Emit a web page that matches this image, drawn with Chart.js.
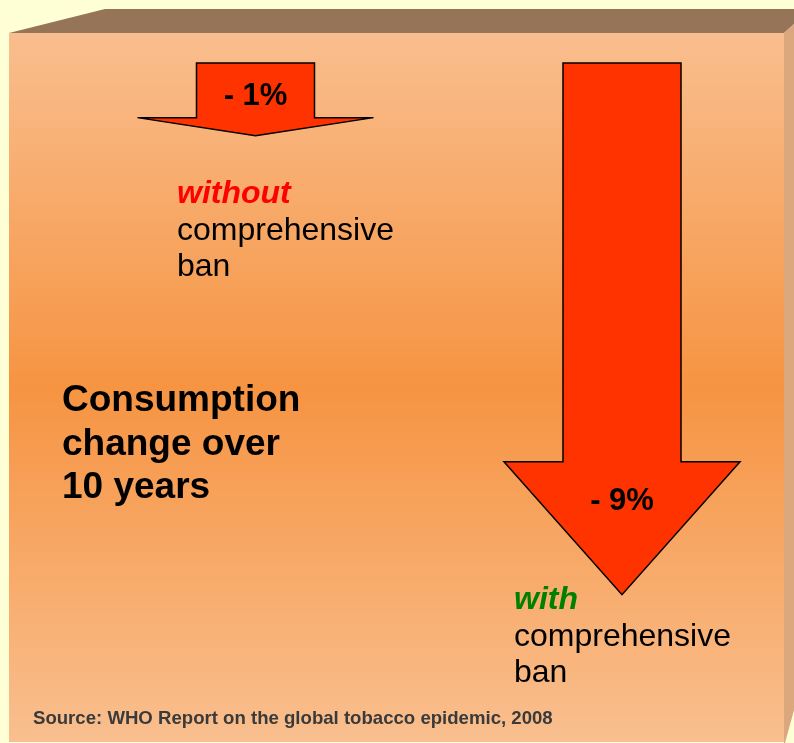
<!DOCTYPE html>
<html>
<head>
<meta charset="utf-8">
<script src="https://cdn.jsdelivr.net/npm/chart.js@4.4.1/dist/chart.umd.min.js"></script>
<style>
  html, body { margin: 0; padding: 0; background: #FFFFD5; }
</style>
</head>
<body>
<canvas id="banchart" width="794" height="743"></canvas>
<script>
const categories = ['without', 'with'];
const consumptionChange = [-1, -9];
const changeLabels = ['- 1%', '- 9%'];
const captionColors = ['#FF0000', '#008000'];

// 3D box behind the chart
const boxBackground = {
  id: 'boxBackground',
  beforeDraw(chart) {
    const ctx = chart.ctx;
    ctx.save();
    ctx.fillStyle = '#FFFFD5';
    ctx.fillRect(0, 0, chart.width, chart.height);

    ctx.fillStyle = '#957458';
    ctx.beginPath();
    ctx.moveTo(9, 33); ctx.lineTo(105, 9); ctx.lineTo(794, 9); ctx.lineTo(794, 24); ctx.lineTo(784, 33);
    ctx.closePath();
    ctx.fill();

    ctx.fillStyle = '#DBA77D';
    ctx.beginPath();
    ctx.moveTo(784, 33); ctx.lineTo(794, 24); ctx.lineTo(794, 710); ctx.lineTo(785, 743); ctx.lineTo(784, 743);
    ctx.closePath();
    ctx.fill();

    const g = ctx.createLinearGradient(0, 33, 0, 742);
    g.addColorStop(0, '#F9BE8E');
    g.addColorStop(0.5, '#F69442');
    g.addColorStop(1, '#F9BF8F');
    ctx.fillStyle = g;
    ctx.fillRect(9, 33, 775, 709);
    ctx.restore();
  }
};

// bars drawn as down arrows
const arrowBars = {
  id: 'arrowBars',
  afterDatasetsDraw(chart) {
    const ctx = chart.ctx;
    const top = chart.chartArea.top;
    const meta = chart.getDatasetMeta(0);
    ctx.save();
    meta.data.forEach((bar, i) => {
      const half = bar.width / 2;
      const tip = bar.y;
      const headH = (tip - top) * 0.25;
      const neck = tip - headH;
      ctx.beginPath();
      ctx.moveTo(bar.x - half, top);
      ctx.lineTo(bar.x + half, top);
      ctx.lineTo(bar.x + half, neck);
      ctx.lineTo(bar.x + bar.width, neck);
      ctx.lineTo(bar.x, tip);
      ctx.lineTo(bar.x - bar.width, neck);
      ctx.lineTo(bar.x - half, neck);
      ctx.closePath();
      ctx.fillStyle = '#FF3300';
      ctx.fill();
      ctx.lineWidth = 1.5;
      ctx.strokeStyle = '#000';
      ctx.lineJoin = 'miter';
      ctx.stroke();

      ctx.fillStyle = '#000';
      ctx.font = 'bold 31px "Liberation Sans", Arial, sans-serif';
      ctx.textAlign = 'center';
      ctx.textBaseline = 'alphabetic';
      const ly = i === 0 ? top + 42 : neck + 48;
      ctx.fillText(changeLabels[i], bar.x, ly);
    });
    ctx.restore();
  }
};

const captions = {
  id: 'captions',
  afterDraw(chart) {
    const ctx = chart.ctx;
    ctx.save();
    ctx.textAlign = 'left';
    ctx.textBaseline = 'alphabetic';
    const pos = [[177, 203], [514, 609]];
    categories.forEach((c, i) => {
      const [x, y] = pos[i];
      ctx.font = 'italic bold 32px "Liberation Sans", Arial, sans-serif';
      ctx.fillStyle = captionColors[i];
      ctx.fillText(c, x, y);
      ctx.font = '32px "Liberation Sans", Arial, sans-serif';
      ctx.fillStyle = '#000';
      ctx.fillText('comprehensive', x, y + 37);
      ctx.fillText('ban', x, y + 73);
    });

    ctx.font = 'bold 37px "Liberation Sans", Arial, sans-serif';
    ctx.fillStyle = '#000';
    ['Consumption', 'change over', '10 years'].forEach((t, i) => {
      ctx.fillText(t, 62, 411 + i * 43.5);
    });

    ctx.font = 'bold 18.6px "Liberation Sans", Arial, sans-serif';
    ctx.fillStyle = '#3A3A3A';
    ctx.fillText('Source: WHO Report on the global tobacco epidemic, 2008', 33, 724);
    ctx.restore();
  }
};

const ctx = document.getElementById('banchart').getContext('2d');
new Chart(ctx, {
  type: 'bar',
  data: {
    labels: categories,
    datasets: [{
      label: 'Consumption change over 10 years',
      data: consumptionChange,
      backgroundColor: 'rgba(0,0,0,0)',
      borderWidth: 0,
      categoryPercentage: 1,
      barPercentage: 0.322
    }]
  },
  options: {
    responsive: false,
    animation: false,
    layout: { padding: { left: 255.5, right: 172, top: 63, bottom: 91 } },
    plugins: { legend: { display: false }, tooltip: { enabled: false } },
    scales: {
      x: { display: false, offset: false },
      y: { display: false, min: -10, max: 0.27 }
    }
  },
  plugins: [boxBackground, arrowBars, captions]
});
</script>
</body>
</html>
